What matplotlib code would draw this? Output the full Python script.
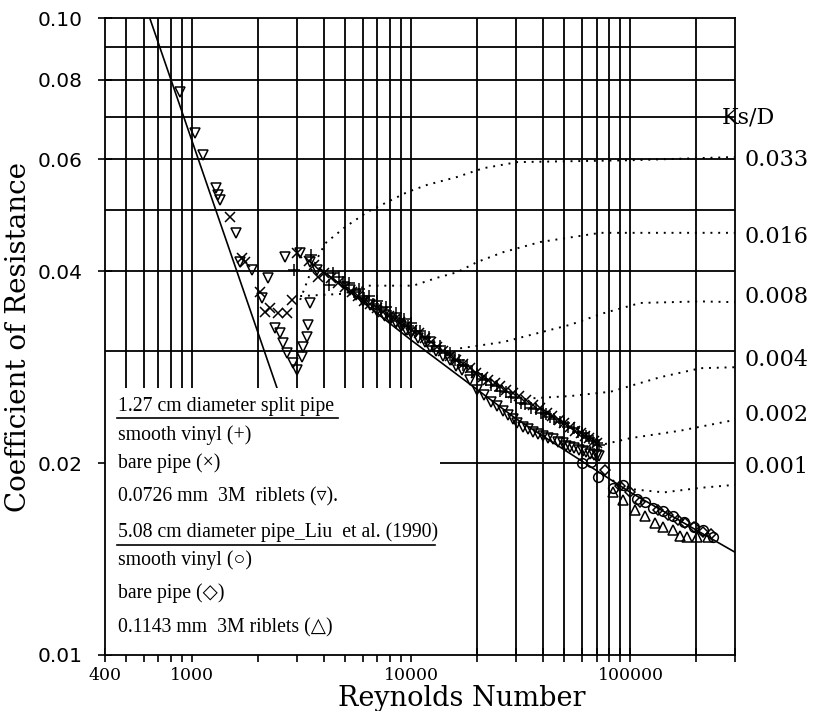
import numpy as np
import matplotlib
matplotlib.use("Agg")
import matplotlib.pyplot as plt
from matplotlib.patches import Rectangle
from matplotlib.ticker import FixedLocator, NullLocator, NullFormatter

# laminar (64/Re) and smooth-pipe reference lines
lam_re = [640, 2500]
lam_f = [0.100, 0.0256]
smooth_re = [3800, 10000, 30000, 100000, 300000]
smooth_f = [0.0405, 0.0312, 0.0235, 0.0180, 0.0145]

# relative roughness curves (Ks/D)
ks_labels = ["0.033", "0.016", "0.008", "0.004", "0.002", "0.001"]
ks033_re = [3110, 3530, 4050, 5000, 6300, 9590, 11800, 16200, 21300, 30500, 100000, 301000]
ks033_f = [0.0361, 0.0405, 0.0443, 0.0470, 0.0496, 0.0533, 0.0547, 0.0563, 0.0581, 0.0594, 0.0598, 0.0605]
ks016_re = [3110, 4890, 6300, 10200, 13100, 16200, 20000, 26300, 38800, 72900, 301000]
ks016_f = [0.0366, 0.0369, 0.0380, 0.0380, 0.0391, 0.0399, 0.0414, 0.0429, 0.0445, 0.0460, 0.0460]
ks008_re = [16700, 26300, 37600, 53200, 75300, 111000, 209000, 301000]
ks008_f = [0.0303, 0.0310, 0.0320, 0.0330, 0.0344, 0.0357, 0.0359, 0.0358]
ks004_re = [36100, 53200, 81100, 137000, 209000, 301000]
ks004_f = [0.0253, 0.0255, 0.0259, 0.0273, 0.0282, 0.0283]
ks002_re = [70700, 100000, 169000, 301000]
ks002_f = [0.0213, 0.0219, 0.0225, 0.0234]
ks001_re = [82800, 103000, 142000, 209000, 301000]
ks001_f = [0.0188, 0.0182, 0.0180, 0.0183, 0.0185]

# 1.27 cm split pipe
vinyl_re = [2900, 3500, 4200, 4700, 5200, 5800, 6400, 7000, 7700, 8500, 9300, 10000,
            11000, 12000, 13500, 15000, 16500, 18000, 20000, 22000, 24500, 27000,
            30000, 33000, 37000, 41000, 45000, 50000, 55000, 60000, 65000, 70000,
            4400, 4900, 5500, 6100, 6700, 7300, 8100, 8900, 9700, 10500, 11500, 12700,
            14200, 15800, 17200, 19000, 21000, 23000, 25500, 28500, 31500, 35000, 39000,
            43000, 47500, 52000, 57500, 62500, 67500, 72000]
vinyl_f = [0.0402, 0.0425, 0.0381, 0.0392, 0.0384, 0.0376, 0.0366, 0.0360, 0.0352, 0.0344,
           0.0337, 0.0332, 0.0323, 0.0316, 0.0306, 0.0298, 0.0290, 0.0284, 0.0276, 0.0270,
           0.0264, 0.0259, 0.0253, 0.0248, 0.0243, 0.0239, 0.0235, 0.0231, 0.0227, 0.0223,
           0.0219, 0.0215,
           0.0398, 0.0385, 0.0372, 0.0364, 0.0356, 0.0350, 0.0340, 0.0334, 0.0328, 0.0322,
           0.0314, 0.0306, 0.0298, 0.0290, 0.0285, 0.0278, 0.0271, 0.0265, 0.0260, 0.0254,
           0.0249, 0.0244, 0.0240, 0.0236, 0.0232, 0.0228, 0.0224, 0.0221, 0.0217, 0.0214]
bare_re = [1490, 1690, 1750, 2040, 2150, 2270, 2470, 2720, 2860, 3010, 3400, 3760, 4300,
           5000, 5700, 6500, 7400, 8400, 9500, 10800, 12300, 14000, 16000, 18500, 21300,
           24000, 27000, 31000, 36000, 41800, 47000, 53000, 59200, 65000, 70700,
           3600, 4000, 4650, 5350, 6100, 6950, 7900, 8900, 10100, 11500, 13100, 15000,
           17200, 19800, 22500, 25500, 29000, 33500, 38500, 44000, 50000, 56000, 62000, 68000]
bare_f = [0.0487, 0.0420, 0.0414, 0.0371, 0.0345, 0.0350, 0.0344, 0.0344, 0.0361, 0.0428,
          0.0415, 0.0392, 0.0390, 0.0378, 0.0366, 0.0356, 0.0346, 0.0337, 0.0329, 0.0320,
          0.0310, 0.0300, 0.0291, 0.0282, 0.0273, 0.0267, 0.0261, 0.0255, 0.0247, 0.0240,
          0.0234, 0.0228, 0.0223, 0.0219, 0.0215,
          0.0410, 0.0398, 0.0384, 0.0372, 0.0360, 0.0351, 0.0341, 0.0333, 0.0324, 0.0315,
          0.0305, 0.0295, 0.0286, 0.0277, 0.0270, 0.0264, 0.0258, 0.0251, 0.0244, 0.0237,
          0.0231, 0.0225, 0.0221, 0.0217]
rib1_re = [881, 1032, 1123, 1287, 1315, 1343, 1589, 1657, 1880, 2222, 2087, 2659, 2393,
           2523, 2604, 2717, 2891, 3016, 3177, 3210, 3350, 3390, 3460, 3110, 3460, 3720,
           5270, 6000, 7000, 8000, 9000, 10000, 11500, 13000, 15000, 17000, 20000, 23000,
           26300, 29000, 32400, 36000, 40000, 44500, 49000, 53200, 58000, 63000, 68000, 72000,
           5600, 6500, 7500, 8500, 9500, 10700, 12200, 14000, 16000, 18500, 21500, 24500,
           27500, 30500, 34000, 38000, 42000, 46500, 51000, 55500, 60500, 65500, 70000]
rib1_f = [0.0765, 0.0660, 0.0610, 0.0541, 0.0527, 0.0518, 0.0460, 0.0414, 0.0402, 0.0391,
          0.0363, 0.0421, 0.0326, 0.0320, 0.0309, 0.0298, 0.0287, 0.0280, 0.0294, 0.0304,
          0.0316, 0.0330, 0.0357, 0.0428, 0.0414, 0.0402, 0.0374, 0.0360, 0.0347, 0.0337,
          0.0328, 0.0320, 0.0310, 0.0300, 0.0290, 0.0280, 0.0261, 0.0250, 0.0242, 0.0235,
          0.0228, 0.0224, 0.0221, 0.0218, 0.0215, 0.0212, 0.0210, 0.0208, 0.0206, 0.0205,
          0.0368, 0.0354, 0.0342, 0.0332, 0.0324, 0.0314, 0.0305, 0.0295, 0.0284, 0.0270,
          0.0256, 0.0246, 0.0238, 0.0231, 0.0226, 0.0222, 0.0219, 0.0216, 0.0213, 0.0211,
          0.0209, 0.0207, 0.0206]

# 5.08 cm pipe, Liu et al. (1990)
liu_vinyl_re = [60400, 66000, 71400, 83600, 92900, 107600, 117000, 127000, 141000,
                157000, 175000, 194000, 215000, 237000]
liu_vinyl_f = [0.0200, 0.0201, 0.0190, 0.0183, 0.0185, 0.0176, 0.0174, 0.0170, 0.0168,
               0.0165, 0.0162, 0.0159, 0.0157, 0.0153]
liu_bare_re = [76900, 90000, 100000, 111000, 134000, 149000, 164000, 178000, 194000, 215000, 232000]
liu_bare_f = [0.0195, 0.0184, 0.0180, 0.0174, 0.0169, 0.0166, 0.0163, 0.0161, 0.0159, 0.0156, 0.0155]
liu_rib_re = [83600, 92900, 105000, 117000, 130000, 141000, 156000, 169000, 182000, 202000, 225000]
liu_rib_f = [0.0180, 0.0175, 0.0169, 0.0165, 0.0161, 0.0159, 0.0157, 0.0154, 0.0153, 0.0153, 0.0153]

x_ticks = [400, 1000, 10000, 100000]
x_minor = [500, 600, 700, 800, 900, 2000, 3000, 4000, 5000, 6000, 7000, 8000, 9000,
           20000, 30000, 40000, 50000, 60000, 70000, 80000, 90000, 200000, 300000]
y_ticks = [0.01, 0.02, 0.04, 0.06, 0.08, 0.10]
y_ticklabels = ["0.01", "0.02", "0.04", "0.06", "0.08", "0.10"]
y_grid = [0.02, 0.03, 0.04, 0.05, 0.06, 0.07, 0.08, 0.09]

fig = plt.figure(figsize=(8.16, 7.11), dpi=100)
ax = fig.add_axes([105 / 816, 1 - 655 / 711, 630 / 816, 637 / 711])
ax.set_xscale("log")
ax.set_yscale("log")
ax.set_xlim(400, 300000)
ax.set_ylim(0.01, 0.10)

# grid drawn by hand so the key panel can sit on top of it
for xv in x_minor[:-1] + x_ticks[1:]:
    ax.axvline(xv, color="black", lw=1.3, zorder=1)
for yv in y_grid:
    ax.axhline(yv, color="black", lw=1.3, zorder=1)

ax.plot(lam_re, lam_f, color="black", lw=1.2, zorder=1.5)
ax.plot(smooth_re, smooth_f, color="black", lw=1.2, zorder=3)

ks_curves = [(ks033_re, ks033_f), (ks016_re, ks016_f), (ks008_re, ks008_f),
             (ks004_re, ks004_f), (ks002_re, ks002_f), (ks001_re, ks001_f)]
for cre, cf in ks_curves:
    ax.plot(cre, cf, color="black", lw=1.4, ls=(0, (1, 3)), zorder=3)

mk = dict(ls="none", mfc="none", mec="black", color="black", mew=1.1, zorder=4)
ax.plot(vinyl_re, vinyl_f, marker="+", ms=8, **mk)
ax.plot(bare_re, bare_f, marker="x", ms=7, **mk)
ax.plot(rib1_re, rib1_f, marker="v", ms=7, **mk)
ax.plot(liu_vinyl_re, liu_vinyl_f, marker="o", ms=7, **mk)
ax.plot(liu_bare_re, liu_bare_f, marker="D", ms=5, **mk)
ax.plot(liu_rib_re, liu_rib_f, marker="^", ms=7, **mk)

# white panel holding the key
ax.add_patch(Rectangle((0, 0), 0.532, 0.419, transform=ax.transAxes,
                       facecolor="white", edgecolor="none", zorder=2))

ax.xaxis.set_major_locator(FixedLocator(x_ticks))
ax.xaxis.set_minor_locator(FixedLocator(x_minor))
ax.xaxis.set_minor_formatter(NullFormatter())
ax.set_xticklabels([str(v) for v in x_ticks], fontfamily="DejaVu Serif", fontsize=12.5)
ax.yaxis.set_major_locator(FixedLocator(y_ticks))
ax.yaxis.set_minor_locator(NullLocator())
ax.set_yticklabels(y_ticklabels, fontfamily="DejaVu Sans", fontsize=14.5)
ax.tick_params(axis="x", which="both", direction="inout", length=10, width=1.2, pad=4)
ax.tick_params(axis="y", which="both", direction="inout", length=10, width=1.2, pad=11)
for sp in ax.spines.values():
    sp.set_linewidth(1.3)

fig.text(462 / 816, 1 - 698 / 711, "Reynolds Number", ha="center", va="center",
         fontfamily="DejaVu Serif", fontsize=19.5)
fig.text(19 / 816, 1 - 337 / 711, "Coefficient of Resistance", ha="center", va="center",
         rotation=90, fontfamily="DejaVu Serif", fontsize=20)

# Ks/D labels on the right
fig.text(722 / 816, 1 - 117 / 711, "Ks/D", ha="left", va="center",
         fontfamily="DejaVu Serif", fontsize=16)
ks_label_y = [160, 237, 297, 360, 415, 467]
for lab, yp in zip(ks_labels, ks_label_y):
    fig.text(745 / 816, 1 - yp / 711, lab, ha="left", va="center",
             fontfamily="DejaVu Serif", fontsize=16)

# key text
key_font = ["Liberation Serif", "DejaVu Sans"]
key_rows = [
    ("1.27 cm diameter split pipe", 406),
    ("smooth vinyl (+)", 435),
    ("bare pipe (\u00d7)", 463),
    ("0.0726 mm  3M  riblets (\u25bf).", 497),
    ("5.08 cm diameter pipe_Liu  et al. (1990)", 532),
    ("smooth vinyl (\u25cb)", 560),
    ("bare pipe (\u25c7)", 593),
    ("0.1143 mm  3M riblets (\u25b3)", 628),
]
for txt, yp in key_rows:
    fig.text(118 / 816, 1 - yp / 711, txt, ha="left", va="center",
             family=key_font, fontsize=14.2)
for x0, x1, yp in [(117, 338, 418), (117, 435, 545)]:
    fig.add_artist(plt.Line2D([x0 / 816, x1 / 816], [1 - yp / 711, 1 - yp / 711],
                              color="black", lw=1.2, transform=fig.transFigure))

fig.savefig("out.png", dpi=100)
